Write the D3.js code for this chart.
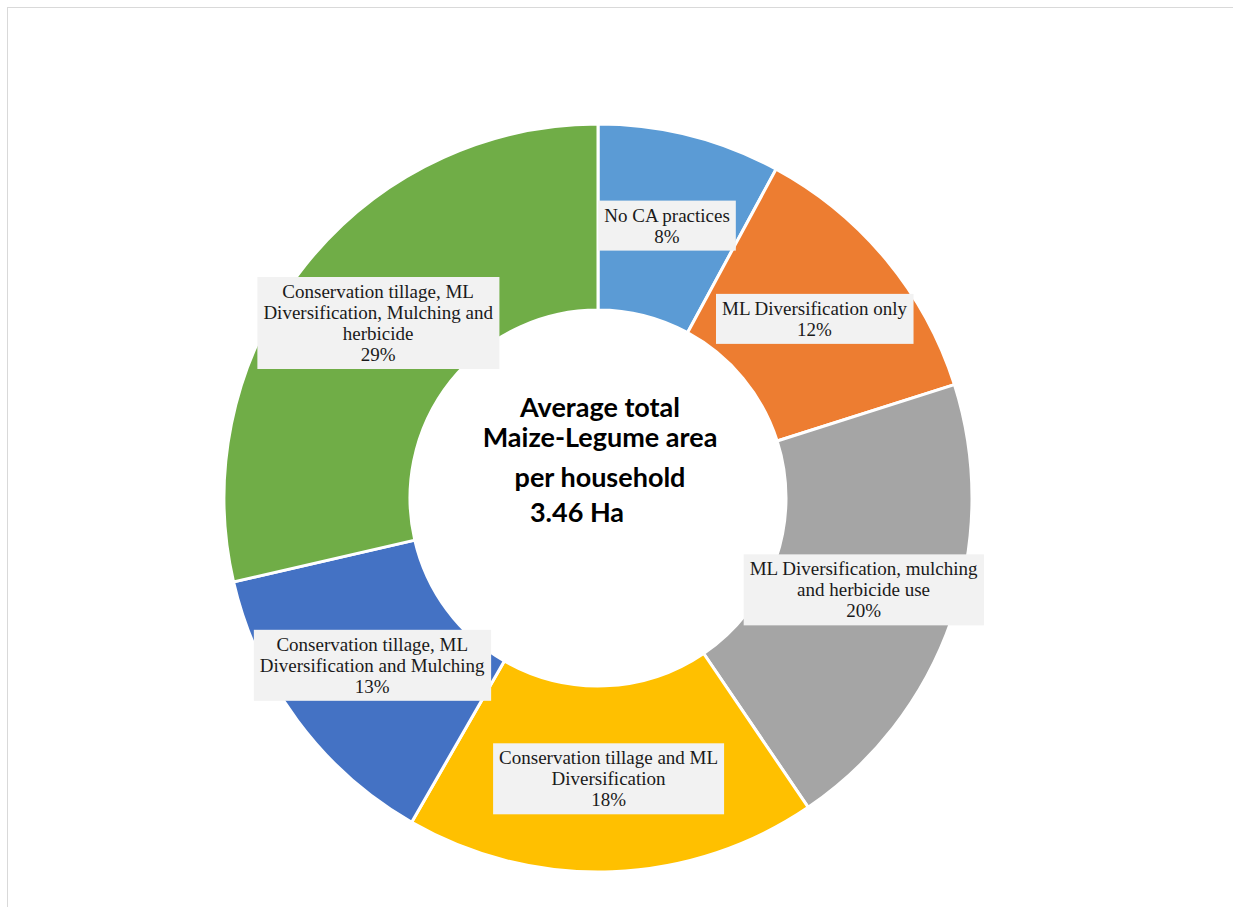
<!DOCTYPE html>
<html>
<head>
<meta charset="utf-8">
<script src="https://cdn.jsdelivr.net/npm/d3@7"></script>
<style>
  html, body { margin: 0; padding: 0; background: #fff; }
  svg { display: block; }
</style>
</head>
<body>
<svg id="chart" width="1233" height="907"></svg>
<script>
// ---- Data ----
const categories = [
  "No CA practices",
  "ML Diversification only",
  "ML Diversification, mulching and herbicide use",
  "Conservation tillage and ML Diversification",
  "Conservation tillage, ML Diversification and Mulching",
  "Conservation tillage, ML Diversification, Mulching and herbicide"
];
const labelLines = [
  ["No CA practices"],
  ["ML Diversification only"],
  ["ML Diversification, mulching", "and herbicide use"],
  ["Conservation tillage and ML", "Diversification"],
  ["Conservation tillage, ML", "Diversification and Mulching"],
  ["Conservation tillage, ML", "Diversification, Mulching and", "herbicide"]
];
const values = [7.9, 12.2, 20.4, 17.8, 13.1, 28.6];
const colors = ["#5B9BD5", "#ED7D31", "#A5A5A5", "#FFC000", "#4472C4", "#70AD47"];
const centerLines = ["Average total", "Maize-Legume area", "per household", "3.46 Ha"];

// ---- Layout ----
const svg = d3.select("#chart");
const cx = 598, cy = 498;
const outerR = 374, innerR = 188;

svg.append("rect")
  .attr("x", 7.5).attr("y", 7.5)
  .attr("width", 1240).attr("height", 910)
  .attr("fill", "none").attr("stroke", "#d9d9d9").attr("stroke-width", 1);

const g = svg.append("g").attr("transform", `translate(${cx},${cy})`);

const total = d3.sum(values);
const pie = d3.pie().value(d => d).sort(null);
const arcs = pie(values);
const arc = d3.arc().innerRadius(innerR).outerRadius(outerR);

g.selectAll("path.slice")
  .data(arcs)
  .join("path")
  .attr("class", "slice")
  .attr("d", arc)
  .attr("fill", (d, i) => colors[i])
  .attr("stroke", "#fff")
  .attr("stroke-width", 3);

// ---- Data labels ----
const fontSize = 19, lineH = 21, padX = 6, padY = 4;
arcs.forEach((d, i) => {
  const [lx, ly] = arc.centroid(d);
  const pct = Math.round(values[i] / total * 100) + "%";
  const lines = labelLines[i].concat([pct]);
  const lg = g.append("g").attr("transform", `translate(${lx},${ly})`);
  const rect = lg.append("rect").attr("fill", "#F2F2F2");
  const txt = lg.append("text")
    .attr("text-anchor", "middle")
    .attr("font-family", "'Liberation Serif', 'Times New Roman', serif")
    .attr("font-size", fontSize)
    .attr("fill", "#1a1a1a");
  const n = lines.length;
  lines.forEach((t, k) => {
    txt.append("tspan")
      .attr("x", 0)
      .attr("y", (k - (n - 1) / 2) * lineH + fontSize * 0.34)
      .text(t);
  });
  const bb = txt.node().getBBox();
  const h = n * lineH + padY * 2;
  rect.attr("x", bb.x - padX).attr("width", bb.width + padX * 2)
      .attr("y", -h / 2).attr("height", h);
});

// ---- Center text ----
const baselines = [-81, -51, -11, 24];
const ct = g.append("text")
  .attr("text-anchor", "middle")
  .attr("font-family", "Lato, 'Open Sans', sans-serif")
  .attr("font-weight", "bold")
  .attr("font-size", 27)
  .attr("fill", "#000");
centerLines.forEach((t, k) => {
  ct.append("tspan")
    .attr("x", k === 3 ? -21 : 2)
    .attr("y", baselines[k])
    .text(t);
});
</script>
</body>
</html>
